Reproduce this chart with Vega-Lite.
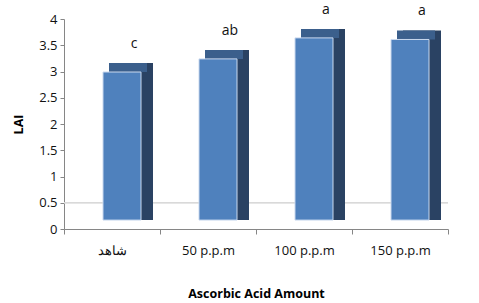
{
  "$schema": "https://vega.github.io/schema/vega-lite/v6.json",
  "width": 384,
  "height": 210,
  "autosize": "none",
  "padding": {"left": 64, "top": 19, "right": 31, "bottom": 74},
  "background": "white",
  "config": {
    "view": {"stroke": null},
    "font": "Open Sans",
    "axis": {
      "labelFont": "Open Sans",
      "titleFont": "Open Sans",
      "labelColor": "#111111",
      "titleColor": "#000000",
      "domainColor": "#868686",
      "tickColor": "#868686",
      "labelFontSize": 13,
      "titleFontSize": 12.5,
      "titleFontWeight": "bold",
      "grid": false
    },
    "axisY": {
      "labelOverlap": false,
      "tickSize": 4,
      "labelPadding": 3,
      "titlePadding": 13
    },
    "axisX": {
      "labelAngle": 0,
      "tickBand": "extent",
      "tickSize": 5,
      "labelPadding": 10,
      "titlePadding": 30
    }
  },
  "data": {
    "values": [
      {"amount": "شاهد", "LAI": 2.99, "letter": "c"},
      {"amount": "50 p.p.m", "LAI": 3.24, "letter": "ab"},
      {"amount": "100 p.p.m", "LAI": 3.64, "letter": "a"},
      {"amount": "150 p.p.m", "LAI": 3.61, "letter": "a"}
    ]
  },
  "layer": [
    {
      "mark": {"type": "rule", "color": "#d9d9d9", "strokeWidth": 1},
      "encoding": {"y": {"datum": 0.5}}
    },
    {
      "mark": {"type": "bar", "width": 38, "xOffset": 22, "yOffset": -9, "color": "#2a4263"},
      "encoding": {
        "x": {
          "field": "amount",
          "type": "nominal",
          "sort": null,
          "scale": {"paddingInner": 0, "paddingOuter": 0},
          "title": "Ascorbic Acid Amount"
        },
        "y": {
          "field": "LAI",
          "type": "quantitative",
          "scale": {"domain": [0, 4], "nice": false},
          "title": "LAI",
          "axis": {"tickCount": 8, "format": "~g"}
        },
        "y2": {"datum": 0.17}
      }
    },
    {
      "mark": {"type": "tick", "orient": "horizontal", "size": 38, "thickness": 9, "xOffset": 16, "yOffset": -4.5, "color": "#3b5f8c", "opacity": 1},
      "encoding": {
        "x": {"field": "amount", "type": "nominal", "sort": null},
        "y": {"field": "LAI", "type": "quantitative"}
      }
    },
    {
      "mark": {"type": "bar", "width": 38, "xOffset": 10, "color": "#4f81bd", "stroke": "#c9d8ee", "strokeWidth": 1},
      "encoding": {
        "x": {"field": "amount", "type": "nominal", "sort": null},
        "y": {"field": "LAI", "type": "quantitative"},
        "y2": {"datum": 0.17}
      }
    },
    {
      "mark": {"type": "text", "dx": 22, "dy": -28, "fontSize": 14, "color": "#111111", "baseline": "middle"},
      "encoding": {
        "x": {"field": "amount", "type": "nominal", "sort": null},
        "y": {"field": "LAI", "type": "quantitative"},
        "text": {"field": "letter"}
      }
    }
  ]
}
